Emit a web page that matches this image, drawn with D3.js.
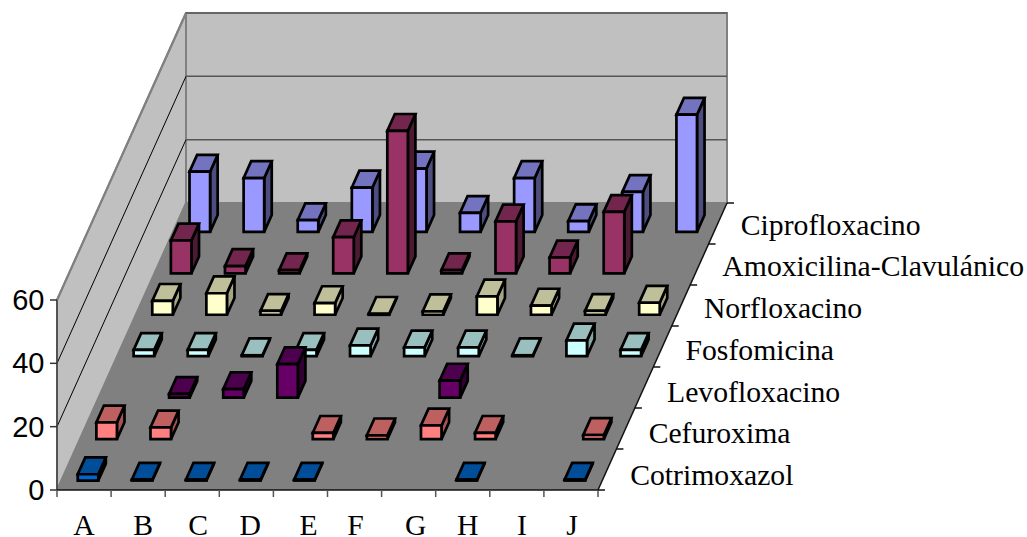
<!DOCTYPE html>
<html><head><meta charset="utf-8">
<script src="https://cdn.jsdelivr.net/npm/d3@7"></script>
<style>html,body{margin:0;padding:0;background:#fff}svg{display:block}</style></head>
<body><svg id="c" width="1027" height="537"></svg>
<script>
const categories=["A","B","C","D","E","F","G","H","I","J"];
const seriesNames=["Cotrimoxazol","Cefuroxima","Levofloxacino","Fosfomicina","Norfloxacino","Amoxicilina-Clavulánico","Ciprofloxacino"];
const yTicks=[0,20,40,60];
const cotrimoxazol=[2,0.3,0.3,0.3,0.3,null,null,0.3,null,0.3];
const cefuroxima=[5.3,3.7,null,null,2,1.2,4.3,2,null,1.3];
const levofloxacino=[null,1.2,2.7,10.6,null,null,5.4,null,null,null];
const fosfomicina=[2,2,0.3,2,3.4,2.8,2.8,0.3,5,2];
const norfloxacino=[4.4,6.8,1.2,3.7,0.3,1.1,5.8,2.9,1.2,3.8];
const amoxicilina=[10.4,2.3,1,11.4,45,1,16.4,5,19.4,null];
const ciprofloxacino=[19,17,3.7,14,20,6,17,3.4,12.6,37];
const seriesValues=[cotrimoxazol,cefuroxima,levofloxacino,fosfomicina,norfloxacino,amoxicilina,ciprofloxacino];
const frontColors=["#0066cc","#ff8080","#660066","#ccffff","#ffffcc","#993366","#9999ff"];
const topColors=["#004d99","#bf6060","#4d004d","#99bfbf","#bfbf99","#73264d","#7373bf"];
const sideColors=["#003366","#a65353","#330033","#84a6a6","#a6a684","#4d1a33","#4d4d80"];
const xLabelNudge=[0,5,6,4,8,1,7,5,5,1];

const svg=d3.select("#c");
const xS=d3.scaleLinear().domain([0,10]).range([57,598]);
const dX=d3.scaleLinear().domain([0,7]).range([0,129]);
const dY=d3.scaleLinear().domain([0,7]).range([490,203]);
const yH=d3.scaleLinear().domain([0,60]).range([0,190]);
const labelY=d3.scaleLinear().domain([0,6]).range([485,234.5]);
const P=(c,s,v=0)=>[xS(c)+dX(s),dY(s)-yH(v)];
const poly=(pts,fill,stroke,sw)=>svg.append("polygon").attr("points",pts.map(p=>p.join(",")).join(" "))
  .attr("fill",fill).attr("stroke",stroke||"none").attr("stroke-width",sw||0).attr("stroke-linejoin","miter");
const line=(a,b,col,w)=>svg.append("line").attr("x1",a[0]).attr("y1",a[1]).attr("x2",b[0]).attr("y2",b[1]).attr("stroke",col).attr("stroke-width",w||1);

// walls and floor
poly([P(0,0),P(0,0,60),P(0,7,60),P(0,7)],"#c0c0c0","#808080",2);
poly([P(0,7),P(0,7,60),P(10,7,60),P(10,7)],"#c0c0c0","#808080",2);
poly([P(0,0),P(0,7),P(10,7),P(10,0)],"#808080");
// gridlines
yTicks.slice(1,3).forEach(v=>{
  line(P(0,0,v),P(0,7,v),"#000",1);
  line(P(0,7,v),P(10,7,v),"#555",1.5);
});
line(P(0,0,60),P(0,7,60),"#808080",2);
line(P(0,7,60),P(10,7,60),"#666",2);
// axes
line(P(0,0),P(0,0,60),"#444",1.5);
line(P(0,0),P(10,0),"#111",1.5);
line(P(10,0),P(10,7),"#111",1.5);
yTicks.forEach(v=>{
  const p=P(0,0,v);
  line(p,[p[0]-7,p[1]],"#333",1.5);
  svg.append("text").attr("x",p[0]-12.5).attr("y",p[1]+10).attr("text-anchor","end")
    .attr("font-family","Liberation Sans").attr("font-size",29).attr("fill","#000").text(v);
});
d3.range(11).forEach(c=>{const p=P(c,0);line(p,[p[0],p[1]+7],"#555",1.5);});
d3.range(8).forEach(s=>{const p=P(10,s);line(p,[p[0]+7,p[1]],"#111",1.5);});
categories.forEach((t,c)=>{
  svg.append("text").attr("x",xS(c+0.5)+xLabelNudge[c]).attr("y",535).attr("text-anchor","middle")
    .attr("font-family","Liberation Serif").attr("font-size",29.7).attr("fill","#000").text(t);
});
seriesNames.forEach((t,s)=>{
  const p=P(10,s+0.5);
  svg.append("text").attr("x",p[0]+23).attr("y",labelY(s)).attr("font-family","Liberation Serif")
    .attr("font-size",29.7).attr("fill","#000").text(t);
});
// bars, back to front
const L=0.305,R=0.685,F=0.23,B=0.64,S=1.011;
d3.range(6,-1,-1).forEach(s=>{
  seriesValues[s].forEach((v,c)=>{
    if(v===null)return;
    const s0=s*S+F,s1=s*S+B,c0=c+L,c1=c+R;
    const a=P(c0,s0,0),b=P(c1,s0,0),a2=P(c0,s0,v),b2=P(c1,s0,v),
          d2=P(c1,s1,v),e2=P(c0,s1,v),d=P(c1,s1,0);
    poly([b,b2,d2,d],sideColors[s],"#000",2.7);
    poly([a2,b2,d2,e2],topColors[s],"#000",2.7);
    poly([a,b,b2,a2],frontColors[s],"#000",2.7);
  });
});
</script></body></html>
